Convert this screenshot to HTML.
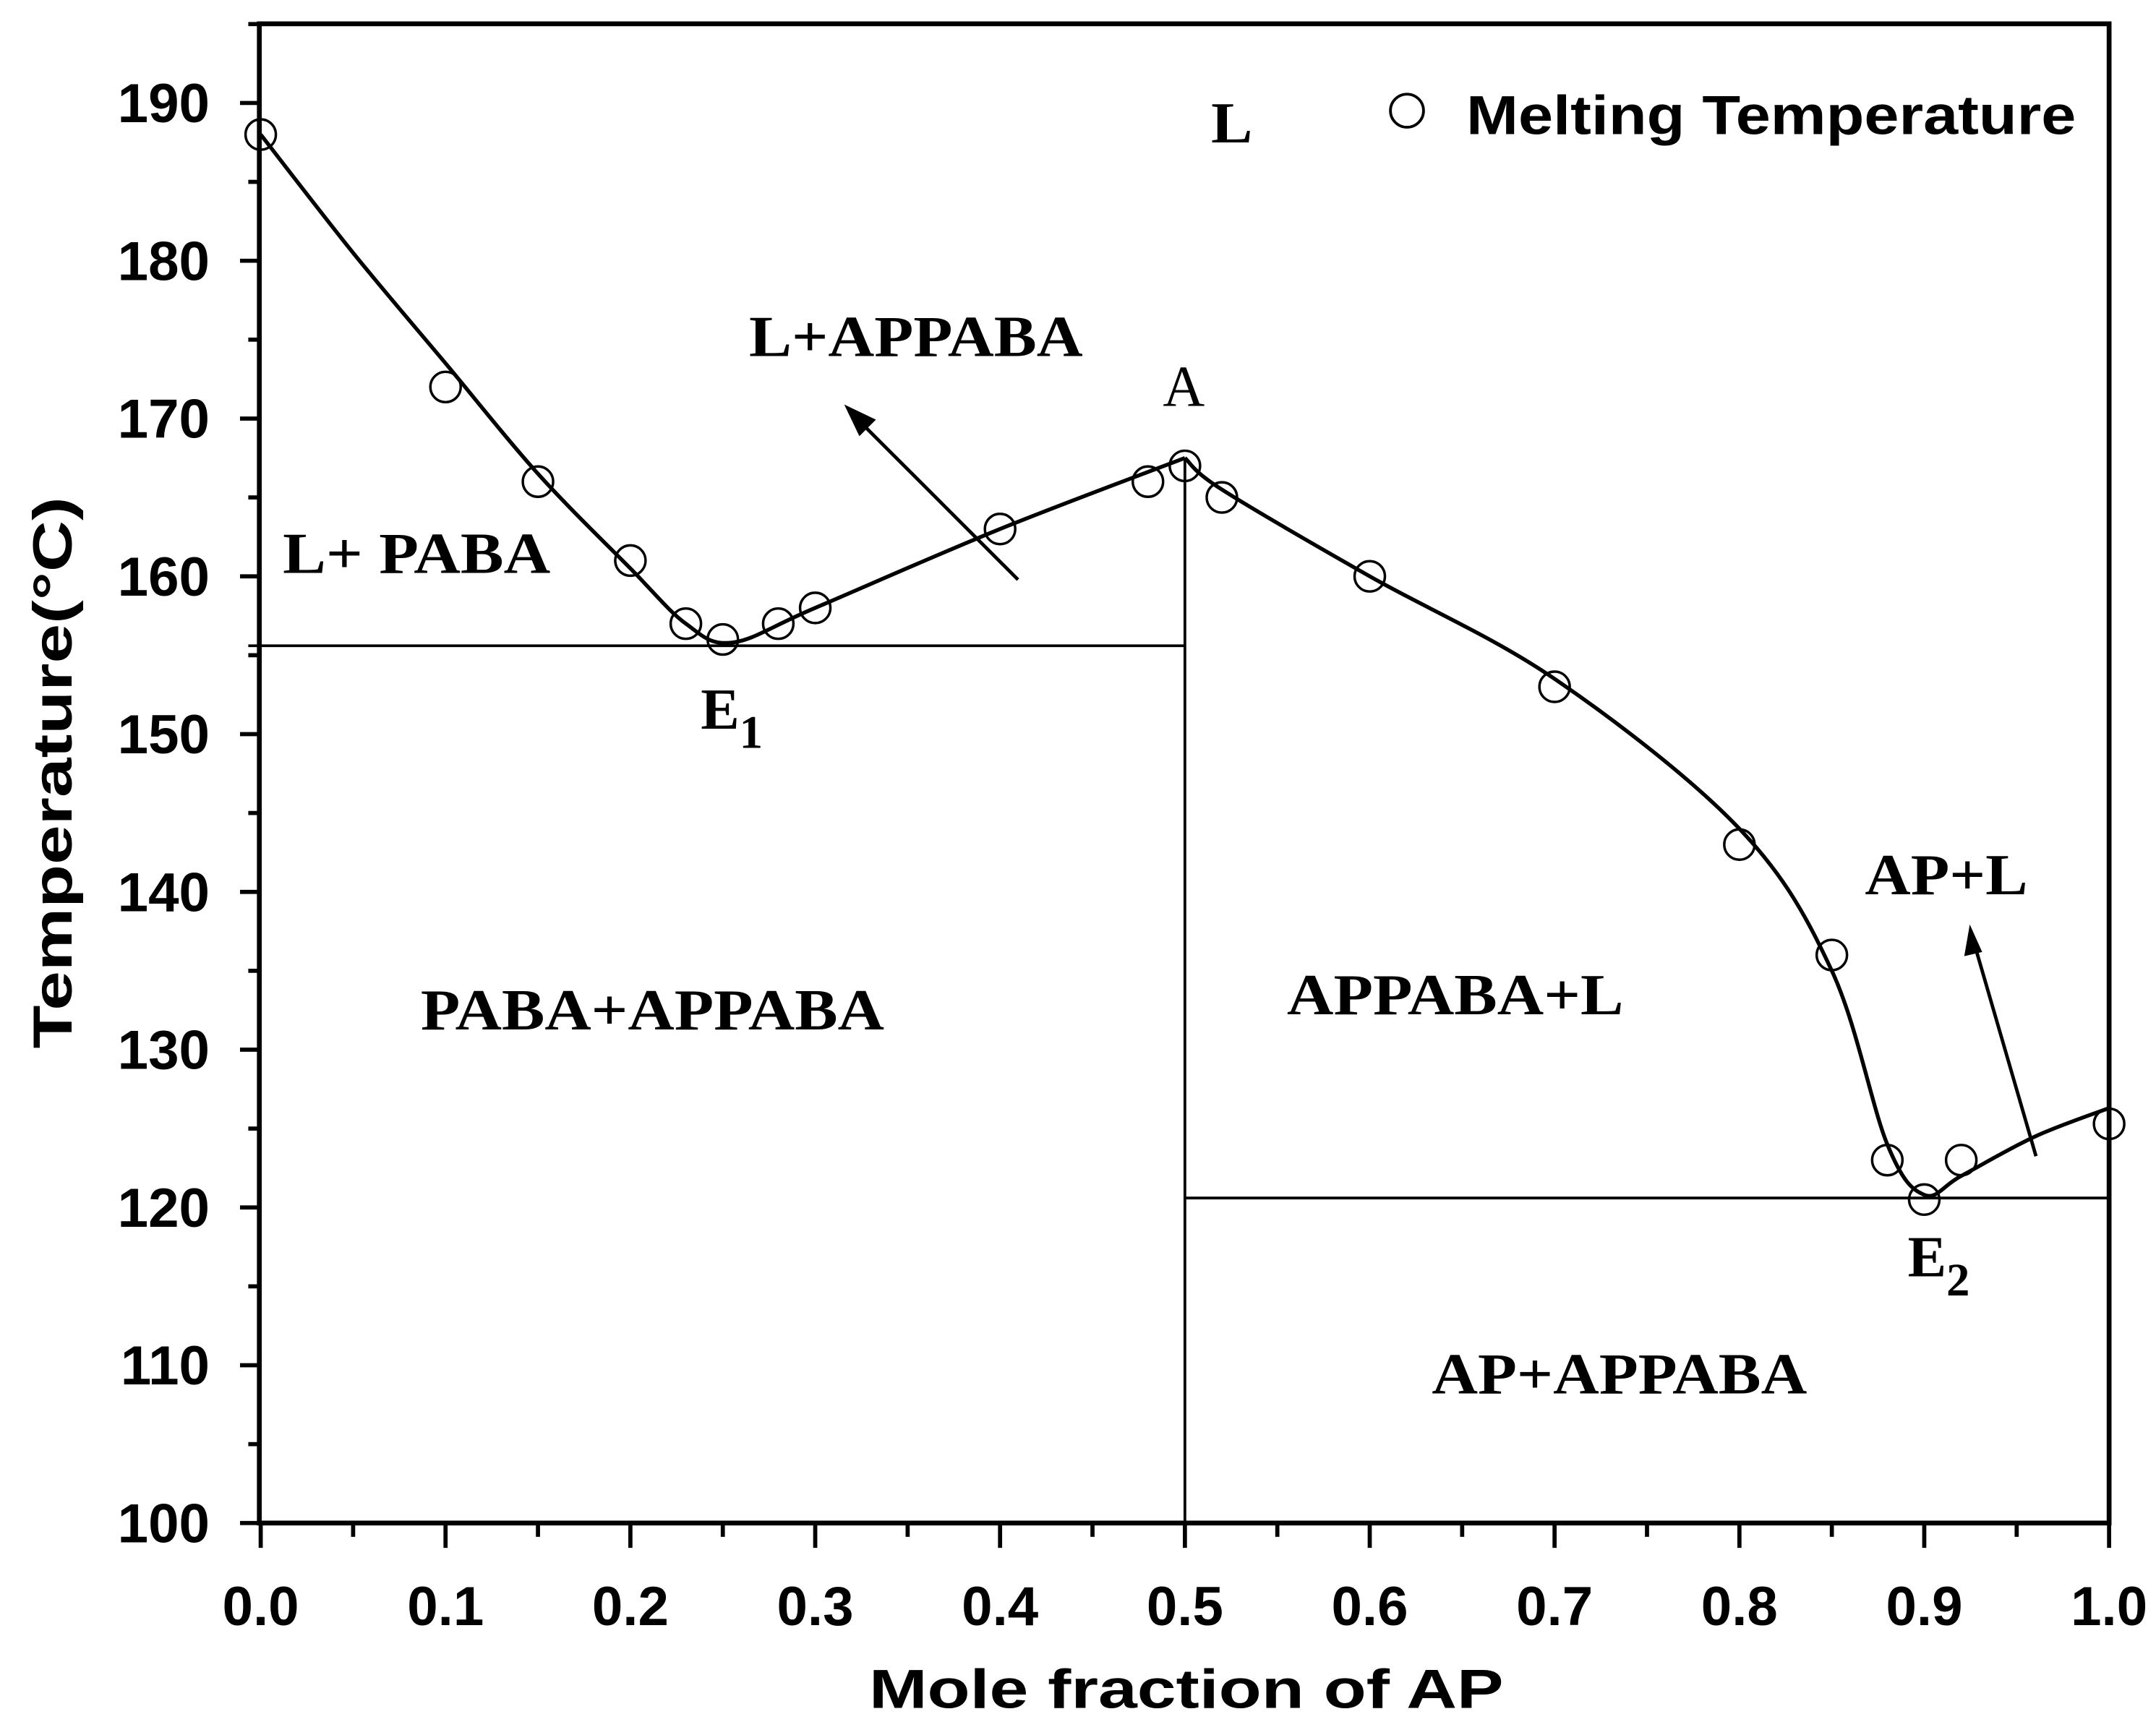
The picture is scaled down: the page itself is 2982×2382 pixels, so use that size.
<!DOCTYPE html>
<html><head><meta charset="utf-8"><style>
html,body{margin:0;padding:0;background:#fff;}
svg{display:block;}
.tk{font-family:"Liberation Sans",sans-serif;font-weight:bold;font-size:40px;}
.rg{font-family:"Liberation Serif",serif;font-weight:bold;font-size:42px;}
</style></head><body>
<svg id="chart" width="2982" height="2382" viewBox="0 0 1563 1248" xmlns="http://www.w3.org/2000/svg">
<g id="axes"></g>
<g id="lines"></g>
<g id="pts"></g>
<g>
<text class="rg" x="878" y="103" textLength="30" lengthAdjust="spacingAndGlyphs">L</text>
<text class="rg" x="543" y="258" textLength="242" lengthAdjust="spacingAndGlyphs">L+APPABA</text>
<text x="843" y="294" font-family="Liberation Serif, serif" font-size="42">A</text>
<text class="rg" x="205" y="415" textLength="194" lengthAdjust="spacingAndGlyphs">L+ PABA</text>
<text class="rg" x="508" y="528" font-size="44">E<tspan font-size="34" dy="14">1</tspan></text>
<text class="rg" x="305" y="746" textLength="336" lengthAdjust="spacingAndGlyphs">PABA+APPABA</text>
<text class="rg" x="933" y="735" textLength="244" lengthAdjust="spacingAndGlyphs">APPABA+L</text>
<text class="rg" x="1352" y="648" textLength="118" lengthAdjust="spacingAndGlyphs">AP+L</text>
<text class="rg" x="1383" y="925" font-size="44">E<tspan font-size="34" dy="14">2</tspan></text>
<text class="rg" x="1038" y="1010" textLength="272" lengthAdjust="spacingAndGlyphs">AP+APPABA</text>
</g>
<g>
<line x1="738" y1="420" x2="620" y2="302" stroke="#000" stroke-width="2.5"/>
<polygon points="612,293 635,304 623,316" fill="#000"/>
<line x1="1476" y1="838" x2="1431" y2="683" stroke="#000" stroke-width="2.5"/>
<polygon points="1428,670 1437,690 1424,693" fill="#000"/>
</g>
<g>
<circle cx="1020" cy="80" r="12" fill="#fff" stroke="#000" stroke-width="2"/>
<text class="tk" x="1063" y="97" font-size="42" textLength="442" lengthAdjust="spacingAndGlyphs">Melting Temperature</text>
</g>
<text class="tk" x="630" y="1238" font-size="50" textLength="460" lengthAdjust="spacingAndGlyphs">Mole fraction of AP</text>
<text class="tk" transform="translate(52,760) rotate(-90)" font-size="50" textLength="400" lengthAdjust="spacingAndGlyphs">Temperature(°C)</text>
</svg>
<script>
const xTicks=[0,0.1,0.2,0.3,0.4,0.5,0.6,0.7,0.8,0.9,1.0];
const yTicks=[100,110,120,130,140,150,160,170,180,190];
const ptX=[0,0.1,0.15,0.2,0.23,0.25,0.28,0.3,0.4,0.48,0.5,0.52,0.6,0.7,0.8,0.85,0.88,0.9,0.92,1.0];
const ptY=[188,172,166,161,157,156,157,158,163,166,167,165,160,153,143,136,123,120.5,123,125.3];
const leftCurveX=[0,0.05,0.1,0.15,0.2,0.23,0.255,0.3,0.4,0.5];
const leftCurveY=[188,180.5,173.5,166.5,160.5,157,155.8,158,163,167.5];
const rightCurveX=[0.5,0.52,0.6,0.7,0.8,0.85,0.88,0.9,0.92,0.96,1.0];
const rightCurveY=[167.5,165.5,160,153.5,144,135,124,120.8,122,124.5,126.3];
const eutectic1=155.6, eutectic2=120.6, congruentX=0.5;
const NS='http://www.w3.org/2000/svg';
const X=v=>189+v*1340;
const Y=v=>1104-(v-100)*11.44;
function mk(tag,attrs,parent){const e=document.createElementNS(NS,tag);for(const k in attrs)e.setAttribute(k,attrs[k]);parent.appendChild(e);return e;}
const ax=document.getElementById('axes');
let f=mk('rect',{x:188,y:17,width:1341,height:1087,fill:'none',stroke:'#000','stroke-width':3.5},ax);


for(let i=0;i<=20;i++){const v=i*0.05;const maj=i%2==0;
 let t=mk('line',{x1:X(v),x2:X(v),y1:1104,y2:1104+(maj?18:10),stroke:'#000','stroke-width':3},ax);
 
 }
xTicks.forEach(v=>{let t=mk('text',{x:X(v),y:1178,'text-anchor':'middle',class:'tk'},ax);t.textContent=v.toFixed(1);
 
 });
for(let v=100;v<=195;v+=5){const maj=v%10==0;
 let t=mk('line',{x1:188-(maj?14:8),x2:188,y1:Y(v),y2:Y(v),stroke:'#000','stroke-width':3},ax);
 
 }
yTicks.forEach(v=>{let t=mk('text',{x:152,y:Y(v)+14,'text-anchor':'end',class:'tk'},ax);t.textContent=v;
 
 });
function smooth(xs,ys){const p=xs.map((x,i)=>[X(x),Y(ys[i])]);let d='M'+p[0][0]+','+p[0][1];
 for(let i=0;i<p.length-1;i++){const p0=p[i-1]||p[i],p1=p[i],p2=p[i+1],p3=p[i+2]||p2;
  d+=' C'+(p1[0]+(p2[0]-p0[0])/6)+','+(p1[1]+(p2[1]-p0[1])/6)+' '+(p2[0]-(p3[0]-p1[0])/6)+','+(p2[1]-(p3[1]-p1[1])/6)+' '+p2[0]+','+p2[1];}
 return d;}
const ln=document.getElementById('lines');
let c1=mk('path',{d:smooth(leftCurveX,leftCurveY),fill:'none',stroke:'#000','stroke-width':2.8},ln);


let c2=mk('path',{d:smooth(rightCurveX,rightCurveY),fill:'none',stroke:'#000','stroke-width':2.8},ln);


let h1=mk('line',{x1:180,x2:X(congruentX),y1:Y(eutectic1),y2:Y(eutectic1),stroke:'#000','stroke-width':2},ln);


let h2=mk('line',{x1:X(congruentX),x2:X(1),y1:Y(eutectic2),y2:Y(eutectic2),stroke:'#000','stroke-width':2},ln);


let vl=mk('line',{x1:X(congruentX),x2:X(congruentX),y1:Y(leftCurveY[leftCurveY.length-1]),y2:1104,stroke:'#000','stroke-width':2},ln);


const pg=document.getElementById('pts');
ptX.forEach((x,i)=>{let c=mk('circle',{cx:X(x),cy:Y(ptY[i]),r:11,fill:'none',stroke:'#000','stroke-width':1.8},pg);
 
 });
</script>
</body></html>
